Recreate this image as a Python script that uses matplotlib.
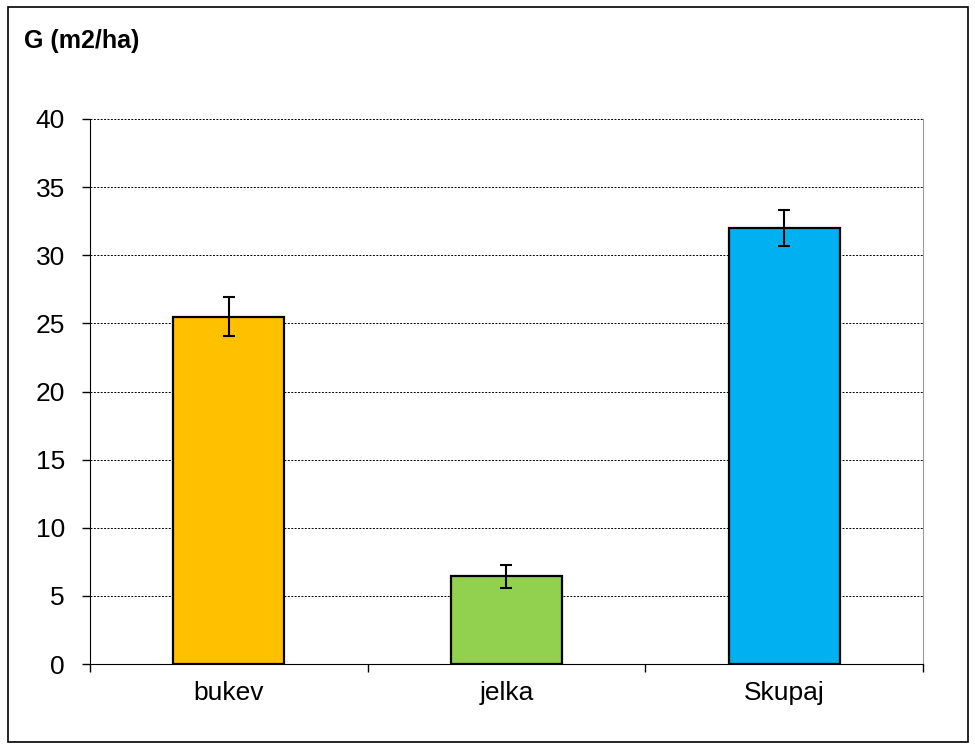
import numpy as np
import matplotlib
matplotlib.use("Agg")
from matplotlib import pyplot as plt
from matplotlib.patches import Rectangle

# data
categories = ["bukev", "jelka", "Skupaj"]
values = [25.5, 6.45, 32.0]
errors = [1.4, 0.85, 1.35]
colors = ["#FFC000", "#92D050", "#00B0F0"]
yticks = [0, 5, 10, 15, 20, 25, 30, 35, 40]

plt.rcParams["font.family"] = ["Liberation Sans", "DejaVu Sans"]

fig = plt.figure(figsize=(9.75, 7.49), dpi=100)
ax = fig.add_axes([90/975, 85/749, 833/975, 545/749])

x = np.arange(len(categories))
ax.bar(x, values, width=0.4, color=colors, edgecolor="black", linewidth=1.6, zorder=3)
ax.errorbar(x, values, yerr=errors, fmt="none", ecolor="black",
            elinewidth=1.5, capsize=4, capthick=1.5, zorder=4)

ax.set_xlim(-0.5, len(categories) - 0.5)
ax.set_ylim(0, 40)
ax.set_yticks(yticks)
ax.set_yticklabels([str(t) for t in yticks], fontsize=19)
ax.yaxis.grid(True, color="black", linestyle=(0, (2, 1.5)), linewidth=0.7, zorder=0)

# category labels centered, ticks on category boundaries
ax.set_xticks(x)
ax.set_xticklabels(categories, fontsize=19)
ax.tick_params(axis="x", length=0, pad=12)
ax.set_xticks(np.arange(len(categories) + 1) - 0.5, minor=True)
ax.tick_params(axis="x", which="minor", length=6, width=1, direction="out")
ax.tick_params(axis="y", length=6, width=1, direction="out", pad=12)

ax.spines["left"].set_color("black")
ax.spines["bottom"].set_color("black")
ax.spines["top"].set_visible(False)
ax.spines["right"].set_color("#999999")
ax.spines["right"].set_linestyle((0, (2, 1)))

fig.text(24/975, 1 - 41/749, "G (m2/ha)", fontsize=18, fontweight="bold",
         ha="left", va="center")

# outer chart border
fig.patches.append(Rectangle((8/975, 7/749), 960/975, 735/749, transform=fig.transFigure,
                             fill=False, edgecolor="black", linewidth=1.2))

fig.savefig("out.png", dpi=100)
